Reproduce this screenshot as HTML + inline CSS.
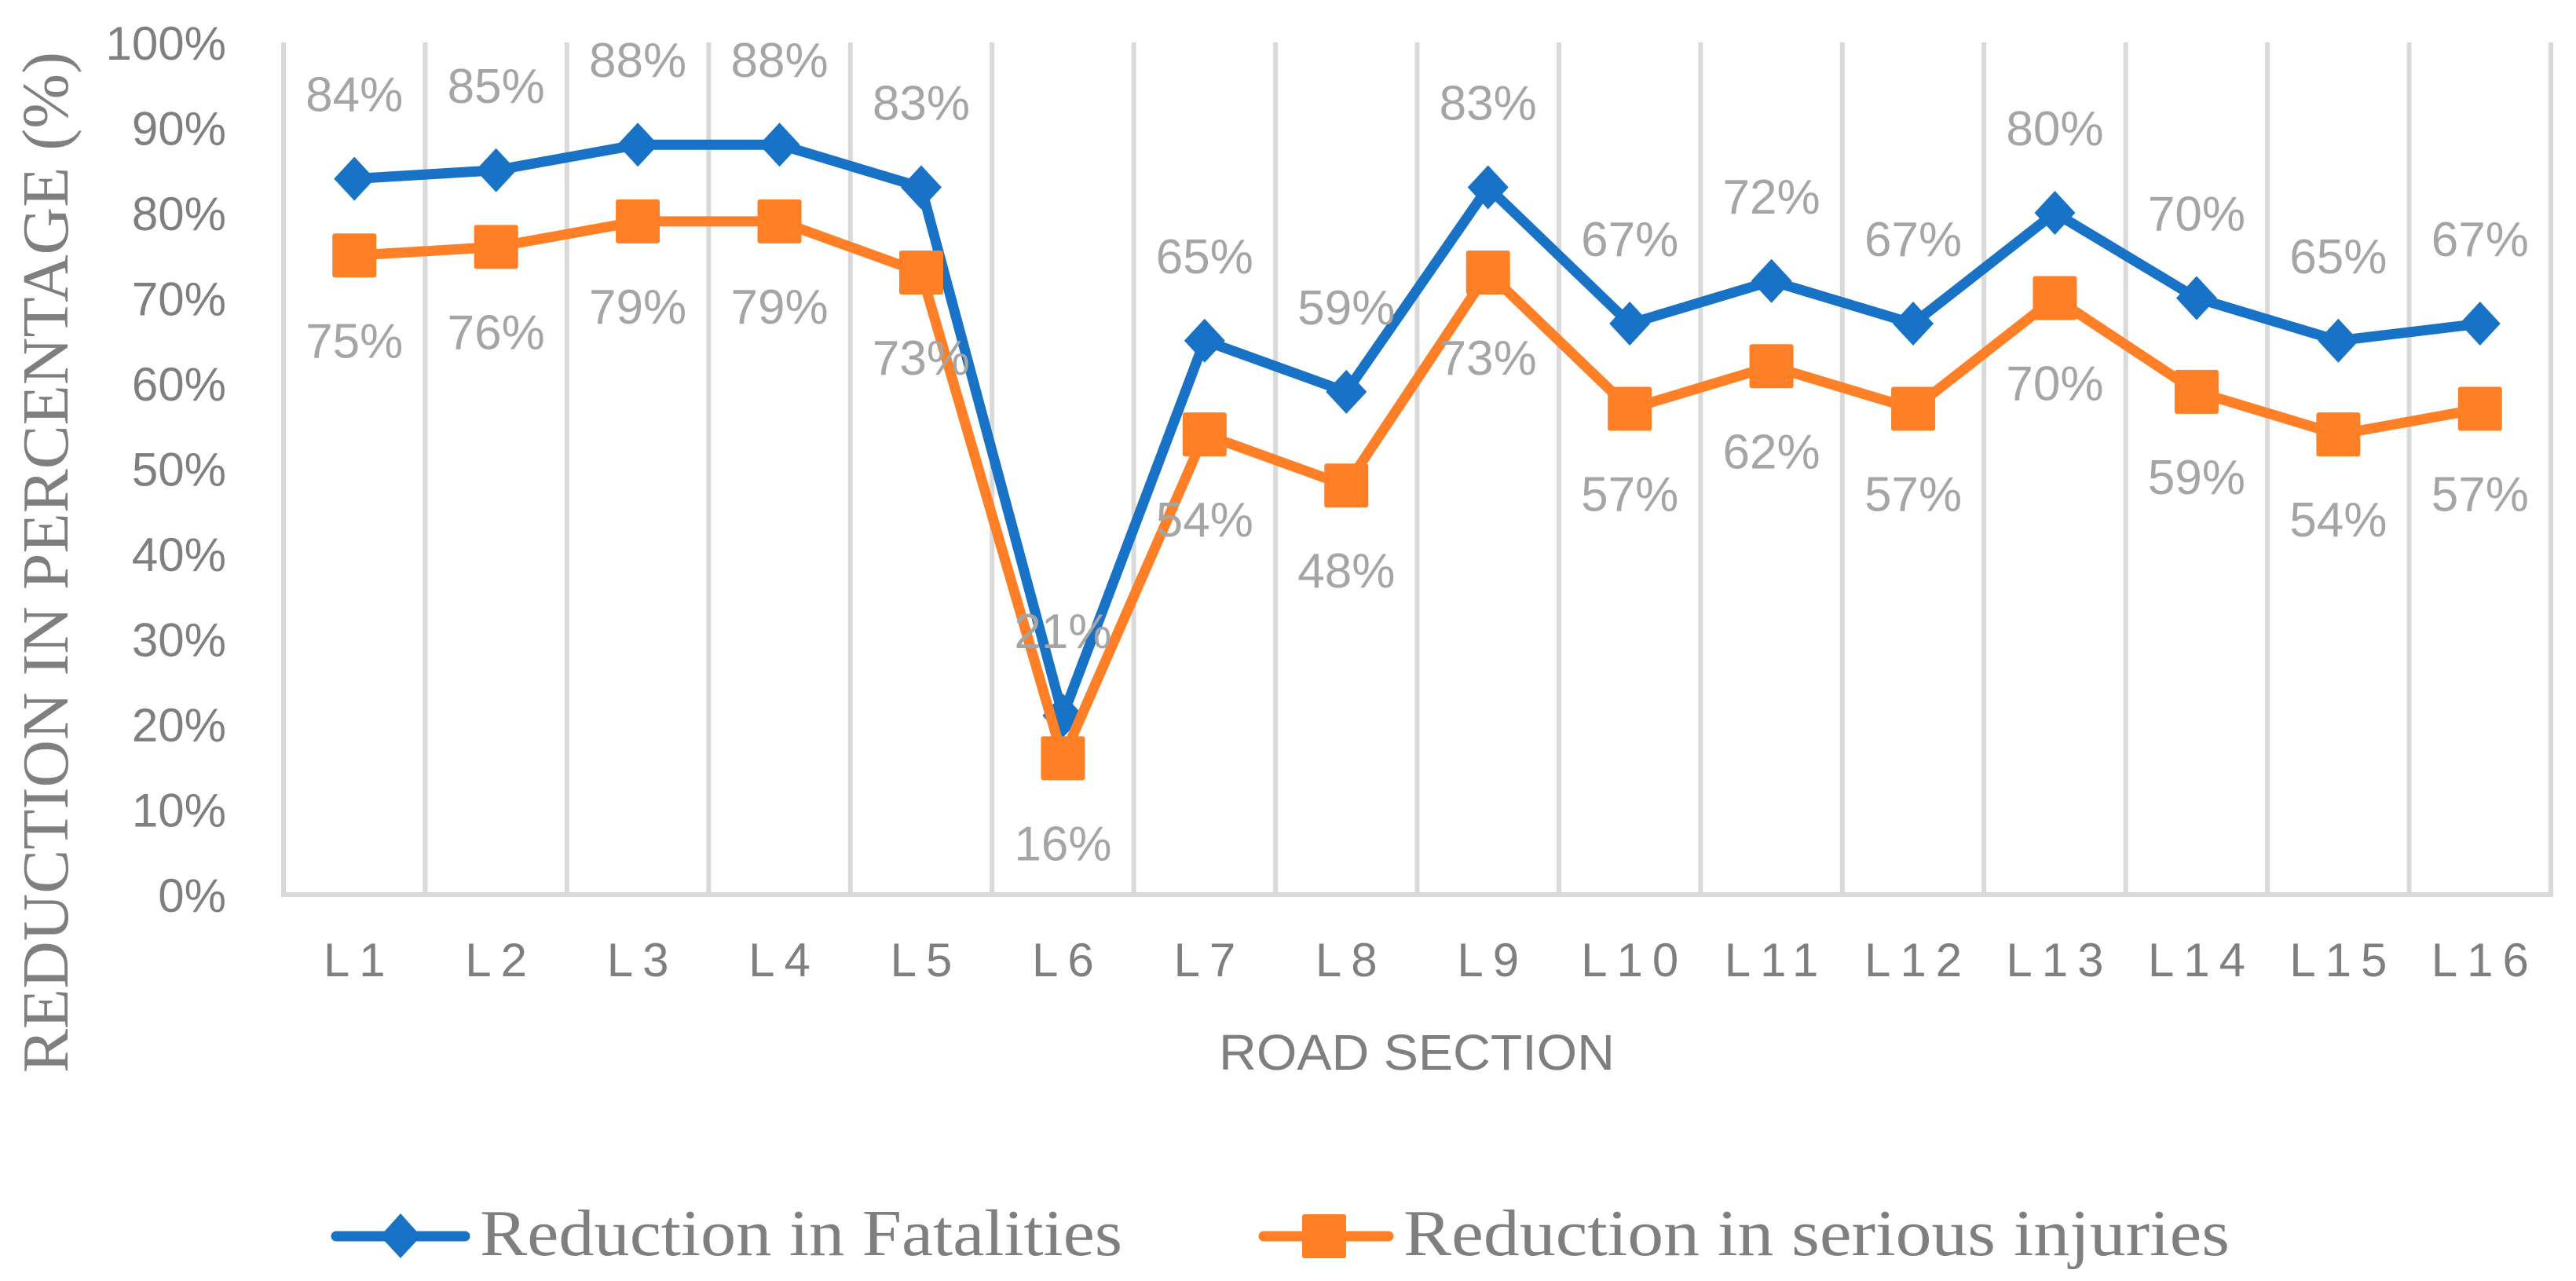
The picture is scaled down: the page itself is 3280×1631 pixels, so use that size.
<!DOCTYPE html>
<html><head><meta charset="utf-8"><style>
html,body{margin:0;padding:0;background:#fff;}
svg{display:block;}
</style></head><body>
<svg id="chart" width="3280" height="1631" viewBox="0 0 3280 1631" xmlns="http://www.w3.org/2000/svg">
<g id="grid"></g>
<g id="yticks"></g>
<g id="xticks"></g>
<g id="series"></g>
<g id="labels"></g>
<text transform="translate(86,716) rotate(-90)" text-anchor="middle" font-family="Liberation Serif, serif" font-size="84" fill="#7f7f7f" textLength="1300" lengthAdjust="spacingAndGlyphs">REDUCTION IN PERCENTAGE (%)</text>
<text x="1804" y="1362" text-anchor="middle" font-family="Liberation Sans, sans-serif" font-size="64" fill="#7f7f7f" textLength="504" lengthAdjust="spacingAndGlyphs">ROAD SECTION</text>
<g>
 <g>
  <line x1="428" y1="1574" x2="592" y2="1574" stroke="#1872c6" stroke-width="13" stroke-linecap="round"/>
  <polygon points="510,1545 536,1574 510,1602 484,1574" fill="#1872c6"/>
  <text x="611" y="1598" font-family="Liberation Serif, serif" font-size="84" fill="#7f7f7f" textLength="818" lengthAdjust="spacingAndGlyphs">Reduction in Fatalities</text>
 </g>
 <g>
  <line x1="1609" y1="1574" x2="1768" y2="1574" stroke="#fe7f26" stroke-width="13" stroke-linecap="round"/>
  <rect x="1658" y="1546" width="56" height="56" rx="3" fill="#fe7f26"/>
  <text x="1787" y="1598" font-family="Liberation Serif, serif" font-size="84" fill="#7f7f7f" textLength="1052" lengthAdjust="spacingAndGlyphs">Reduction in serious injuries</text>
 </g>
</g>
</svg>
<script>
const categories = ["L1","L2","L3","L4","L5","L6","L7","L8","L9","L10","L11","L12","L13","L14","L15","L16"];
const fatalities = [84,85,88,88,83,21,65,59,83,67,72,67,80,70,65,67];
const injuries = [75,76,79,79,73,16,54,48,73,57,62,57,70,59,54,57];
const yTicks = [0,10,20,30,40,50,60,70,80,90,100];

const NS = "http://www.w3.org/2000/svg";
const L = 361, R = 3248, T = 54, B = 1139;
const bw = (R - L) / categories.length;
const x = i => L + (i + 0.5) * bw;
const y = v => B - (v / 100) * (B - T);
function mk(tag, attrs, parent) {
  const e = document.createElementNS(NS, tag);
  for (const k in attrs) e.setAttribute(k, attrs[k]);
  parent.appendChild(e);
  return e;
}
const grid = document.getElementById('grid');
for (let i = 0; i <= categories.length; i++) {
  const gl = mk('line', {x1: L + i * bw, x2: L + i * bw, y1: T, y2: B, stroke: '#d9d9d9', 'stroke-width': 6}, grid);
  
  
}
const ax = mk('line', {x1: L - 3, x2: R + 3, y1: B, y2: B, stroke: '#d9d9d9', 'stroke-width': 6}, grid);



const yt = document.getElementById('yticks');
yTicks.forEach(v => {
  const t = mk('text', {x: 288, y: y(v) + 22, 'text-anchor': 'end', 'font-family': 'Liberation Sans, sans-serif', 'font-size': 60, fill: '#7f7f7f'}, yt);
  t.textContent = v + '%';
  
  
});
const xt = document.getElementById('xticks');
categories.forEach((c, i) => {
  const t = mk('text', {x: x(i) + 6, y: 1243, 'text-anchor': 'middle', 'font-family': 'Liberation Sans, sans-serif', 'font-size': 60, fill: '#7f7f7f', 'letter-spacing': 12}, xt);
  t.textContent = c;
  
  
});

const sg = document.getElementById('series');
const lg = document.getElementById('labels');
function drawSeries(vals, color, shape, dir, name) {
  const pl = mk('polyline', {points: vals.map((v, i) => x(i) + ',' + y(v)).join(' '), fill: 'none', stroke: color, 'stroke-width': 13, 'stroke-linejoin': 'round'}, sg);
  
  
  vals.forEach((v, i) => {
    const cx = x(i), cy = y(v);
    let m;
    if (shape === 'diamond') {
      m = mk('polygon', {points: `${cx},${cy-28} ${cx+26},${cy} ${cx},${cy+28} ${cx-26},${cy}`, fill: color}, sg);
    } else {
      m = mk('rect', {x: cx - 28, y: cy - 28, width: 56, height: 56, rx: 3, fill: color}, sg);
    }
    
    
    const t = mk('text', {x: cx, y: cy + dir * 108 + 22, 'text-anchor': 'middle', 'font-family': 'Liberation Sans, sans-serif', 'font-size': 62, fill: '#a5a5a5'}, lg);
    t.textContent = v + '%';
    
    
  });
}
drawSeries(fatalities, '#1872c6', 'diamond', -1, 'fatalities');
drawSeries(injuries, '#fe7f26', 'square', 1, 'serious-injuries');
</script>
</body></html>
